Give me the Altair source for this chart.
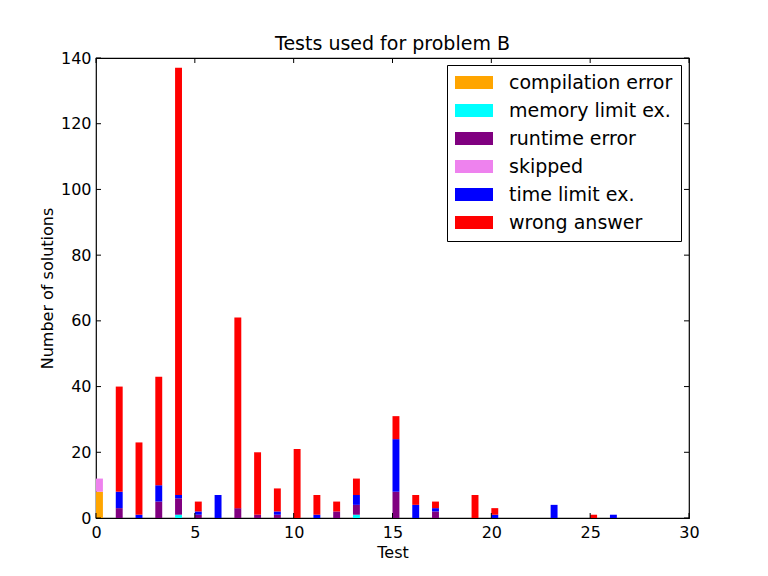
import altair as alt
import pandas as pd

tests = list(range(27))
categories = ["compilation error", "memory limit ex.", "runtime error",
              "skipped", "time limit ex.", "wrong answer"]
colors = ["#FFA500", "#00FFFF", "#800080", "#EE82EE", "#0000FF", "#FF0000"]

compilation = [8, 0, 0, 0, 0, 0, 0, 0, 0, 0, 0, 0, 0, 0, 0, 0, 0, 0, 0, 0, 0, 0, 0, 0, 0, 0, 0]
memory      = [0, 0, 0, 0, 1, 0, 0, 0, 0, 0, 0, 0, 0, 1, 0, 0, 0, 0, 0, 0, 0, 0, 0, 0, 0, 0, 0]
runtime     = [0, 3, 0, 5, 5, 1, 0, 3, 1, 1, 0, 0, 2, 3, 0, 8, 0, 2, 0, 0, 0, 0, 0, 0, 0, 0, 0]
skipped     = [4, 0, 0, 0, 0, 0, 0, 0, 0, 0, 0, 0, 0, 0, 0, 0, 0, 0, 0, 0, 0, 0, 0, 0, 0, 0, 0]
tle         = [0, 5, 1, 5, 1, 1, 7, 0, 0, 1, 0, 1, 0, 3, 0, 16, 4, 1, 0, 0, 1, 0, 0, 4, 0, 0, 1]
wrong       = [0, 32, 22, 33, 130, 3, 0, 58, 19, 7, 21, 6, 3, 5, 0, 7, 3, 2, 0, 7, 2, 0, 0, 0, 0, 1, 0]

x_ticks = [0, 5, 10, 15, 20, 25, 30]
y_ticks = [0, 20, 40, 60, 80, 100, 120, 140]

series = [compilation, memory, runtime, skipped, tle, wrong]
rows = []
for ci, (cat, vals) in enumerate(zip(categories, series)):
    for t, v in zip(tests, vals):
        if v > 0:
            rows.append({"test": t, "category": cat, "count": v, "ord": ci})
df = pd.DataFrame(rows)

FONT = "DejaVu Sans"
W, H = 593, 460

bars = alt.Chart(df).transform_window(
    y_end="sum(count)", groupby=["test"], sort=[alt.SortField("ord")],
    frame=[None, 0]
).transform_calculate(
    x_end="datum.test + 0.35", y_start="datum.y_end - datum.count"
).mark_bar(strokeWidth=0).encode(
    x=alt.X("test:Q", scale=alt.Scale(domain=[0, 30], nice=False),
            axis=alt.Axis(values=x_ticks, title="Test", grid=False, ticks=False,
                          domain=False, labelPadding=6, titlePadding=4,
                          labelFontSize=16, titleFontSize=16, labelFont=FONT,
                          titleFont=FONT, titleFontWeight="normal",
                          labelColor="black", titleColor="black", labelFlush=False)),
    x2="x_end:Q",
    y=alt.Y("y_end:Q", scale=alt.Scale(domain=[0, 140], nice=False),
            axis=alt.Axis(values=y_ticks, title="Number of solutions", grid=False,
                          ticks=False, domain=False, labelPadding=5, titlePadding=5,
                          labelFontSize=16, titleFontSize=16, labelFont=FONT,
                          titleFont=FONT, titleFontWeight="normal",
                          labelColor="black", titleColor="black", labelFlush=False)),
    y2="y_start:Q",
    color=alt.Color("category:N", scale=alt.Scale(domain=categories, range=colors),
                    legend=alt.Legend(orient="none", legendX=351, legendY=7,
                                      title=None, strokeColor="black", fillColor="white",
                                      padding=8, symbolType="M-1,-0.684H3V0.684H-1Z",
                                      symbolSize=361, symbolStrokeWidth=0,
                                      symbolOpacity=1,
                                      labelFontSize=19, labelFont=FONT,
                                      labelColor="black", labelOffset=35,
                                      rowPadding=8, labelLimit=400)),
)

xt = pd.DataFrame({"v": x_ticks})
yt = pd.DataFrame({"v": y_ticks})

bottom_ticks = alt.Chart(xt).mark_rule(color="black", strokeWidth=1).encode(
    x=alt.X("v:Q"), y=alt.value(H), y2=alt.value(H - 5))
top_ticks = alt.Chart(xt).mark_rule(color="black", strokeWidth=1).encode(
    x=alt.X("v:Q"), y=alt.value(0), y2=alt.value(5))
left_ticks = alt.Chart(yt).mark_rule(color="black", strokeWidth=1).encode(
    y=alt.Y("v:Q"), x=alt.value(0), x2=alt.value(5))
right_ticks = alt.Chart(yt).mark_rule(color="black", strokeWidth=1).encode(
    y=alt.Y("v:Q"), x=alt.value(W), x2=alt.value(W - 5))

chart = alt.layer(bars, bottom_ticks, top_ticks, left_ticks, right_ticks).properties(
    width=W, height=H,
    title=alt.TitleParams("Tests used for problem B", fontSize=19, font=FONT,
                          fontWeight="normal", color="black", offset=-4, anchor="middle"),
    autosize=alt.AutoSizeParams(type="none"),
    padding={"left": 96, "top": 58, "right": 79, "bottom": 58},
    background="white",
).configure_view(stroke="black", strokeWidth=1.2)

chart.save("out.html", embed_options={"renderer": "svg", "actions": False})
